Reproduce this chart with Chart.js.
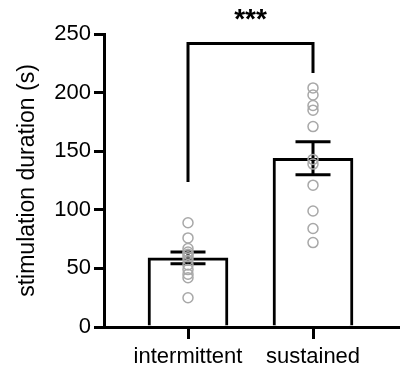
<!DOCTYPE html>
<html>
<head>
<meta charset="utf-8">
<script src="https://cdn.jsdelivr.net/npm/chart.js@4"></script>
<style>
  html, body { margin: 0; padding: 0; background: #fff; }
  #wrap { width: 409px; height: 370px; }
</style>
</head>
<body>
<div id="wrap"><canvas id="c"></canvas></div>
<script>
// data
var categories = ['intermittent', 'sustained'];
var barMeans = [59, 144];
var barSem = [5, 14];
var intermittentPts = [89, 76, 67, 64, 62, 60, 57, 53, 49, 45, 42, 25];
var sustainedPts = [204, 198, 189, 185, 171, 143, 139, 121, 99, 84, 72];
var bracketY = [125, 242, 218];   // left leg bottom, top, right leg bottom
var yTicks = [0, 50, 100, 150, 200, 250];

var black = '#000';
var grey = '#a8a8a8';
var capHalf = 0.14;

var pts = [];
intermittentPts.forEach(v => pts.push({x: 0, y: v}));
sustainedPts.forEach(v => pts.push({x: 1, y: v}));

var errData = [];
barMeans.forEach((m, i) => {
    var lo = m - barSem[i], hi = m + barSem[i];
    errData.push({x: i, y: lo}, {x: i, y: hi}, {x: i, y: null});
    errData.push({x: i - capHalf, y: hi}, {x: i + capHalf, y: hi}, {x: i, y: null});
    errData.push({x: i - capHalf, y: lo}, {x: i + capHalf, y: lo}, {x: i, y: null});
});

var bracket = [
    {x: 0, y: bracketY[0]}, {x: 0, y: bracketY[1]},
    {x: 1, y: bracketY[1]}, {x: 1, y: bracketY[2]}
];

var starsPlugin = {
    id: 'stars',
    afterDraw: function (chart) {
        var ctx = chart.ctx;
        var xs = chart.scales.x, ys = chart.scales.y;
        ctx.save();
        ctx.fillStyle = black;
        ctx.font = 'bold 28px "Liberation Sans", Arial, sans-serif';
        ctx.textAlign = 'center';
        ctx.textBaseline = 'middle';
        ctx.fillText('***', xs.getPixelForValue(0.5), ys.getPixelForValue(bracketY[1]) - 23);
        ctx.restore();
    }
};

Chart.defaults.font.family = '"Liberation Sans", Arial, sans-serif';
Chart.defaults.color = black;

new Chart(document.getElementById('c'), {
    type: 'bar',
    data: {
        datasets: [
            {
                type: 'scatter',
                data: pts,
                pointStyle: 'circle',
                pointRadius: 5,
                pointBorderWidth: 1.5,
                borderColor: grey,
                backgroundColor: 'rgba(0,0,0,0)',
                order: 0
            },
            {
                type: 'line',
                data: errData,
                borderColor: black,
                borderWidth: 3,
                pointRadius: 0,
                spanGaps: false,
                order: 1
            },
            {
                type: 'line',
                data: bracket,
                borderColor: black,
                borderWidth: 3,
                pointRadius: 0,
                borderCapStyle: 'square',
                order: 1
            },
            {
                type: 'bar',
                data: barMeans.map((m, i) => ({x: i, y: m})),
                backgroundColor: '#fff',
                borderColor: black,
                borderWidth: 3,
                barThickness: 80,
                order: 2
            }
        ]
    },
    options: {
        responsive: true,
        maintainAspectRatio: false,
        animation: false,
        layout: {padding: {top: 34, right: 11, bottom: 0, left: 14}},
        plugins: {legend: {display: false}, tooltip: {enabled: false}},
        scales: {
            x: {
                type: 'linear',
                min: -0.672,
                max: 1.68,
                offset: false,
                afterBuildTicks: s => { s.ticks = [{value: 0}, {value: 1}]; },
                afterFit: s => { s.height = 43; },
                ticks: {
                    callback: v => categories[v],
                    font: {size: 22},
                    padding: 5,
                    autoSkip: false,
                    maxRotation: 0
                },
                grid: {offset: false, drawOnChartArea: false, drawTicks: true, tickLength: 12, color: black, lineWidth: 3},
                border: {display: true, color: black, width: 3}
            },
            y: {
                min: 0,
                max: 250,
                afterBuildTicks: s => { s.ticks = yTicks.map(v => ({value: v})); },
                afterFit: s => { s.width = 90; },
                ticks: {font: {size: 22}, padding: 3},
                grid: {drawOnChartArea: false, drawTicks: true, tickLength: 10, color: black, lineWidth: 3},
                border: {display: true, color: black, width: 3},
                title: {
                    display: true,
                    text: 'stimulation duration (s)',
                    font: {size: 23},
                    padding: {top: 0, bottom: 2}
                }
            }
        }
    },
    plugins: [starsPlugin]
});
</script>
</body>
</html>
